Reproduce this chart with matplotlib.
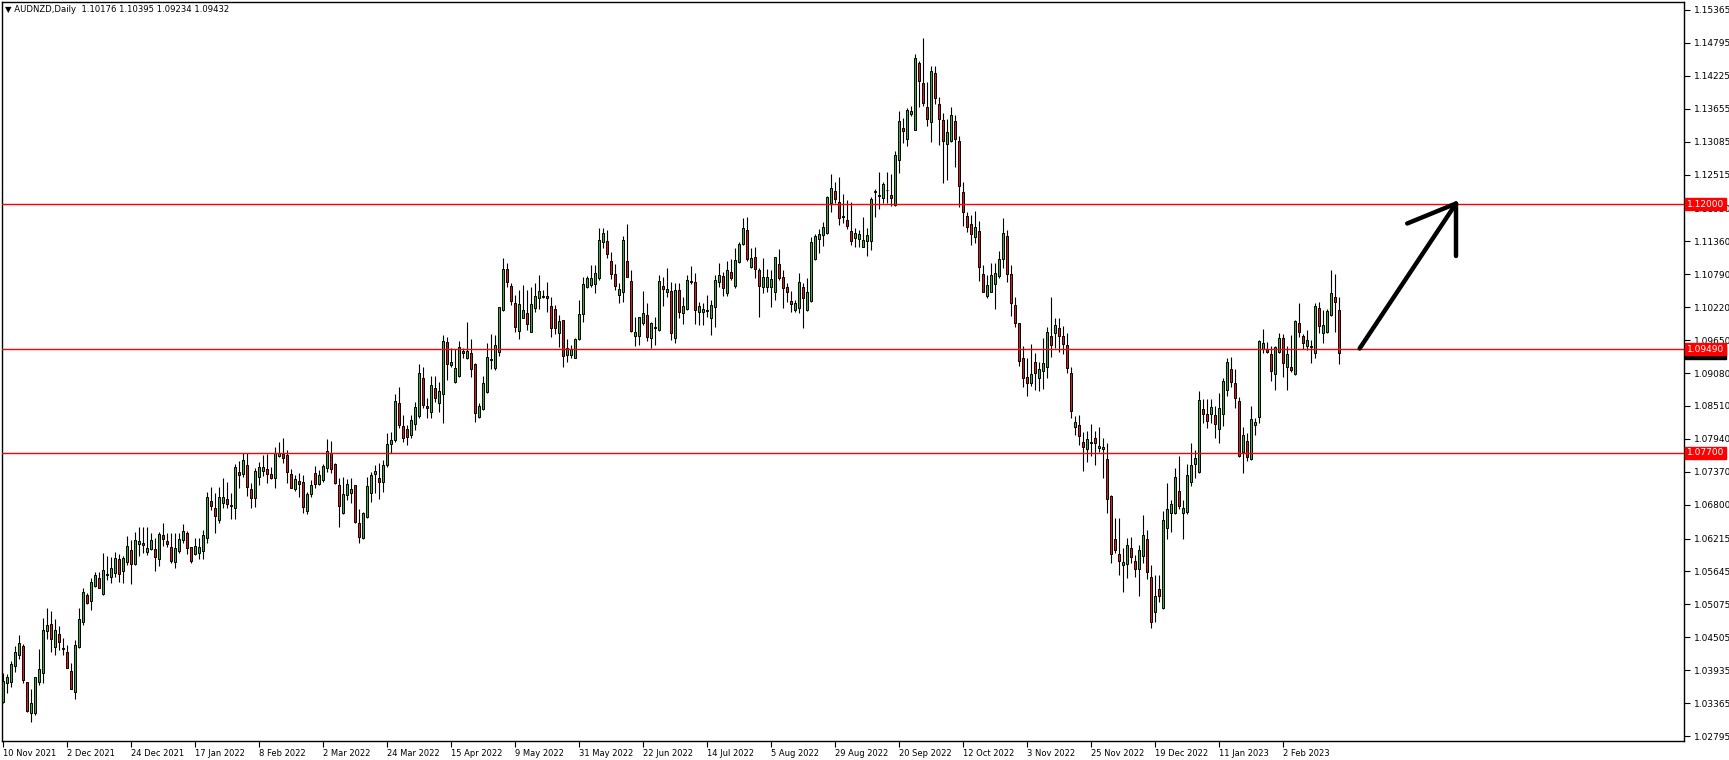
import matplotlib
matplotlib.use("Agg")
import matplotlib.pyplot as plt
import matplotlib.transforms as mtransforms

# AUDNZD daily candles, 10 Nov 2021 .. Feb 2023
opens = [
    1.03379, 1.03719, 1.03736, 1.04013, 1.04204, 1.04354, 1.03731, 1.03188, 1.03188, 1.03736,
    1.03892, 1.04619, 1.04729, 1.04342, 1.04556, 1.04313, 1.04244, 1.03915, 1.03563, 1.04342,
    1.04775, 1.05231, 1.05139, 1.05398, 1.05525, 1.05260, 1.05600, 1.05554, 1.05623, 1.05854,
    1.05658, 1.05808, 1.06016, 1.05767, 1.06125, 1.06137, 1.05975, 1.06039, 1.06027, 1.05854,
    1.06275, 1.06171, 1.06062, 1.05802, 1.05998, 1.06183, 1.06304, 1.06068, 1.05941, 1.05969,
    1.06004, 1.06229, 1.06864, 1.06737, 1.06529, 1.06835, 1.06893, 1.06789, 1.06749, 1.07360,
    1.07326, 1.07481, 1.07066, 1.06922, 1.07285, 1.07389, 1.07412, 1.07326, 1.07268, 1.07649,
    1.07672, 1.07660, 1.07326, 1.07066, 1.07204, 1.07187, 1.06691, 1.06979, 1.07343, 1.07152,
    1.07227, 1.07429, 1.07689, 1.07499, 1.07141, 1.06650, 1.06968, 1.06997, 1.07135, 1.06477,
    1.06218, 1.06593, 1.06997, 1.07326, 1.07256, 1.07187, 1.07481, 1.07845, 1.07920, 1.08567,
    1.08163, 1.08105, 1.08007, 1.08197, 1.08342, 1.08988, 1.08503, 1.08411, 1.08820, 1.08567,
    1.08722, 1.09617, 1.09224, 1.08919, 1.09034, 1.09467, 1.09345, 1.09420, 1.09230, 1.08318,
    1.08451, 1.08757, 1.09328, 1.09172, 1.09449, 1.10171, 1.10880, 1.10586, 1.10286, 1.09813,
    1.10038, 1.10113, 1.09796, 1.10211, 1.10373, 1.10401, 1.10413, 1.10240, 1.10182, 1.09778,
    1.09992, 1.09392, 1.09392, 1.09345, 1.09663, 1.10096, 1.10574, 1.10603, 1.10615, 1.10719,
    1.11348, 1.11365, 1.11019, 1.10788, 1.10436, 1.10476, 1.11019, 1.10673, 1.09726, 1.09720,
    1.09940, 1.10078, 1.09680, 1.09882, 1.09824, 1.10586, 1.10488, 1.10499, 1.09692, 1.10517,
    1.10113, 1.10182, 1.10667, 1.10655, 1.10142, 1.10142, 1.10165, 1.10026, 1.10217, 1.10655,
    1.10759, 1.10459, 1.10828, 1.10586, 1.11007, 1.11307, 1.11555, 1.10909, 1.11082, 1.10863,
    1.10574, 1.10574, 1.10574, 1.10488, 1.10961, 1.10736, 1.10574, 1.10326, 1.10171, 1.10199,
    1.10563, 1.10170, 1.10332, 1.11059, 1.11405, 1.11463, 1.11497, 1.12017, 1.12236, 1.12045,
    1.11797, 1.11728, 1.11538, 1.11422, 1.11393, 1.11267, 1.11370, 1.11370, 1.12207, 1.12149,
    1.12115, 1.12242, 1.12161, 1.11988, 1.12761, 1.13321, 1.13136, 1.13557, 1.13292, 1.14440,
    1.14094, 1.13678, 1.13430, 1.14267, 1.13730, 1.13459, 1.13038, 1.13096, 1.13442, 1.13096,
    1.12207, 1.11792, 1.11659, 1.11428, 1.11538, 1.10788, 1.10418, 1.10488, 1.10615, 1.10765,
    1.11047, 1.11450, 1.10800, 1.10250, 1.09939, 1.09333, 1.09005, 1.08912, 1.09264, 1.08999,
    1.09120, 1.09189, 1.09720, 1.09778, 1.09853, 1.09720, 1.09558, 1.09074, 1.08151, 1.08174,
    1.07879, 1.07758, 1.07879, 1.07949, 1.07775, 1.07758, 1.07585, 1.06950, 1.06200, 1.05941,
    1.05762, 1.05768, 1.06056, 1.05831, 1.05681, 1.05918, 1.06200, 1.05554, 1.04937, 1.05335,
    1.05017, 1.06391, 1.06650, 1.06662, 1.07043, 1.06650, 1.06679, 1.07198, 1.07504, 1.07361,
    1.08451, 1.08365, 1.08370, 1.08353, 1.08105, 1.08365, 1.08786, 1.09143, 1.08901, 1.08595,
    1.07718, 1.07903, 1.07591, 1.08180, 1.08313, 1.09495, 1.09495, 1.09403, 1.09057, 1.09438,
    1.09680, 1.09190, 1.09178, 1.09063, 1.09940, 1.09726, 1.09547, 1.09547, 1.09432, 1.10199,
    1.09778, 1.09795, 1.10084, 1.10390, 1.10176,
]

highs = [
    1.03892, 1.03869, 1.04088, 1.04360, 1.04544, 1.04388, 1.03731, 1.03604, 1.03823, 1.04302,
    1.04833, 1.05017, 1.04960, 1.04815, 1.04700, 1.04486, 1.04371, 1.04054, 1.04458, 1.05006,
    1.05352, 1.05265, 1.05525, 1.05640, 1.05640, 1.05958, 1.05912, 1.05900, 1.05987, 1.05946,
    1.05912, 1.06258, 1.06189, 1.06321, 1.06419, 1.06419, 1.06419, 1.06304, 1.06217, 1.06333,
    1.06477, 1.06304, 1.06304, 1.06304, 1.06304, 1.06460, 1.06344, 1.06073, 1.06217, 1.06218,
    1.06362, 1.07025, 1.07112, 1.06997, 1.07112, 1.07256, 1.07187, 1.06997, 1.07504, 1.07562,
    1.07689, 1.07689, 1.07170, 1.07429, 1.07545, 1.07660, 1.07678, 1.07458, 1.07793, 1.07879,
    1.07949, 1.07747, 1.07412, 1.07314, 1.07354, 1.07314, 1.07025, 1.07227, 1.07476, 1.07401,
    1.07504, 1.07937, 1.07908, 1.07516, 1.07256, 1.07274, 1.07239, 1.07256, 1.07141, 1.06720,
    1.06679, 1.07285, 1.07372, 1.07487, 1.07516, 1.07574, 1.08035, 1.08064, 1.08716, 1.08832,
    1.08353, 1.08180, 1.08353, 1.08584, 1.09230, 1.09190, 1.08653, 1.09034, 1.09034, 1.08930,
    1.09738, 1.09709, 1.09519, 1.09490, 1.09634, 1.09507, 1.09957, 1.09669, 1.09247, 1.08555,
    1.09028, 1.09605, 1.09755, 1.09738, 1.10228, 1.11065, 1.10978, 1.10644, 1.10430, 1.10517,
    1.10603, 1.10517, 1.10574, 1.10644, 1.10776, 1.10517, 1.10661, 1.10401, 1.10257, 1.10084,
    1.09997, 1.09669, 1.09565, 1.09692, 1.10344, 1.10748, 1.10765, 1.10950, 1.10950, 1.11596,
    1.11596, 1.11555, 1.11169, 1.10967, 1.10632, 1.11451, 1.11659, 1.10863, 1.10044, 1.10044,
    1.10499, 1.10286, 1.09969, 1.10055, 1.10776, 1.10748, 1.10903, 1.10661, 1.10632, 1.10632,
    1.10401, 1.10776, 1.10932, 1.10805, 1.10315, 1.10286, 1.10430, 1.10344, 1.10776, 1.10978,
    1.10834, 1.11025, 1.11053, 1.11238, 1.11353, 1.11757, 1.11775, 1.11238, 1.11267, 1.10892,
    1.11065, 1.10874, 1.10863, 1.11094, 1.11221, 1.10863, 1.10632, 1.10499, 1.10344, 1.10805,
    1.10632, 1.10730, 1.11440, 1.11486, 1.11567, 1.11699, 1.12149, 1.12524, 1.12380, 1.12472,
    1.12178, 1.12074, 1.12045, 1.11584, 1.11555, 1.11774, 1.11584, 1.12132, 1.12259, 1.12553,
    1.12392, 1.12559, 1.12524, 1.12923, 1.13615, 1.13488, 1.13673, 1.13701, 1.14602, 1.14486,
    1.14879, 1.14117, 1.14394, 1.14394, 1.13863, 1.13586, 1.13471, 1.13678, 1.13540, 1.13182,
    1.12386, 1.11872, 1.11815, 1.11884, 1.11711, 1.10949, 1.10776, 1.10978, 1.10978, 1.11197,
    1.11760, 1.11550, 1.10950, 1.10400, 1.09939, 1.09547, 1.09345, 1.09582, 1.09431, 1.09276,
    1.09680, 1.09882, 1.10400, 1.10026, 1.10026, 1.09899, 1.09778, 1.09178, 1.08335, 1.08347,
    1.08064, 1.08081, 1.08197, 1.08081, 1.08151, 1.07960, 1.07862, 1.06968, 1.06564, 1.06564,
    1.06056, 1.06218, 1.06235, 1.05929, 1.06102, 1.06621, 1.06362, 1.05756, 1.05583, 1.05583,
    1.06697, 1.07170, 1.06881, 1.07429, 1.07643, 1.06881, 1.07504, 1.07862, 1.07747, 1.08768,
    1.08624, 1.08624, 1.08624, 1.08515, 1.08740, 1.08988, 1.09334, 1.09351, 1.09143, 1.08670,
    1.08151, 1.08036, 1.08515, 1.08295, 1.09651, 1.09842, 1.09622, 1.09547, 1.09547, 1.09767,
    1.09749, 1.09547, 1.09738, 1.09997, 1.10286, 1.09755, 1.09824, 1.09651, 1.10286, 1.10303,
    1.10171, 1.10182, 1.10863, 1.10794, 1.10395,
]

lows = [
    1.03367, 1.03546, 1.03650, 1.03909, 1.04123, 1.03708, 1.03211, 1.03044, 1.03159, 1.03679,
    1.03719, 1.04469, 1.04250, 1.04198, 1.04285, 1.04198, 1.03967, 1.03604, 1.03436, 1.04313,
    1.04717, 1.05081, 1.04977, 1.05369, 1.05352, 1.05237, 1.05496, 1.05439, 1.05542, 1.05462,
    1.05450, 1.05756, 1.05421, 1.05756, 1.05912, 1.05958, 1.05929, 1.06016, 1.05658, 1.05744,
    1.06085, 1.06073, 1.05796, 1.05710, 1.05969, 1.06142, 1.05946, 1.05785, 1.05929, 1.05854,
    1.05854, 1.06131, 1.06708, 1.06316, 1.06477, 1.06749, 1.06737, 1.06547, 1.06547, 1.07083,
    1.07285, 1.06956, 1.06737, 1.06754, 1.07141, 1.07297, 1.07170, 1.07245, 1.07083, 1.07631,
    1.07527, 1.07181, 1.07083, 1.07043, 1.06939, 1.06650, 1.06639, 1.06939, 1.07083, 1.07141,
    1.07199, 1.07372, 1.07354, 1.07158, 1.06420, 1.06633, 1.06881, 1.06824, 1.06489, 1.06143,
    1.06206, 1.06564, 1.06852, 1.07002, 1.06899, 1.07025, 1.07458, 1.07689, 1.07891, 1.08122,
    1.07891, 1.07834, 1.07949, 1.08093, 1.08295, 1.08468, 1.08295, 1.08307, 1.08584, 1.08411,
    1.08209, 1.08959, 1.09190, 1.08901, 1.09017, 1.09334, 1.09322, 1.09017, 1.08226, 1.08307,
    1.08440, 1.08728, 1.09155, 1.09132, 1.09380, 1.10159, 1.10574, 1.10257, 1.09784, 1.09669,
    1.10026, 1.09824, 1.09784, 1.10130, 1.10188, 1.10373, 1.10142, 1.09709, 1.09749, 1.09536,
    1.09190, 1.09265, 1.09345, 1.09334, 1.09651, 1.09957, 1.10557, 1.10574, 1.10459, 1.10690,
    1.11250, 1.11065, 1.10707, 1.10517, 1.10297, 1.10315, 1.10736, 1.09784, 1.09553, 1.09565,
    1.09911, 1.09640, 1.09507, 1.09565, 1.09813, 1.10246, 1.10401, 1.09651, 1.09605, 1.10026,
    1.09928, 1.10171, 1.10615, 1.09922, 1.09911, 1.09911, 1.10055, 1.09738, 1.09882, 1.10574,
    1.10413, 1.10413, 1.10690, 1.10546, 1.10990, 1.11290, 1.11019, 1.10892, 1.10719, 1.10055,
    1.10471, 1.10488, 1.10228, 1.10344, 1.10690, 1.10199, 1.10315, 1.10142, 1.10130, 1.10113,
    1.09864, 1.10159, 1.10315, 1.11036, 1.11163, 1.11284, 1.11486, 1.11872, 1.12017, 1.11642,
    1.11670, 1.11567, 1.11295, 1.11267, 1.11255, 1.11255, 1.11105, 1.11209, 1.11786, 1.11919,
    1.12028, 1.12017, 1.11970, 1.11976, 1.12547, 1.13055, 1.13015, 1.13528, 1.13292, 1.13678,
    1.13701, 1.13355, 1.13084, 1.13736, 1.13026, 1.12374, 1.12421, 1.13084, 1.12651, 1.11947,
    1.11630, 1.11526, 1.11295, 1.11324, 1.10678, 1.10488, 1.10384, 1.10488, 1.10193, 1.10718,
    1.10900, 1.10650, 1.10070, 1.09870, 1.09201, 1.08831, 1.08687, 1.08854, 1.08785, 1.08774,
    1.08803, 1.08987, 1.09351, 1.09518, 1.09449, 1.09403, 1.09074, 1.08295, 1.08006, 1.07833,
    1.07389, 1.07545, 1.07649, 1.07487, 1.07706, 1.07256, 1.06650, 1.05785, 1.05958, 1.05583,
    1.05294, 1.05525, 1.05785, 1.05554, 1.05225, 1.05785, 1.05508, 1.04671, 1.04764, 1.05121,
    1.04994, 1.06212, 1.06333, 1.06639, 1.06725, 1.06212, 1.06639, 1.07123, 1.07268, 1.07343,
    1.08220, 1.08122, 1.08209, 1.07961, 1.07874, 1.08168, 1.08682, 1.08843, 1.08468, 1.07632,
    1.07343, 1.07563, 1.07574, 1.08007, 1.08220, 1.09420, 1.09432, 1.08947, 1.08786, 1.09420,
    1.09017, 1.08786, 1.09103, 1.09045, 1.09709, 1.09490, 1.09478, 1.09259, 1.09345, 1.09767,
    1.09605, 1.09767, 1.10067, 1.09795, 1.09234,
]

closes = [
    1.03754, 1.03811, 1.04036, 1.04244, 1.04400, 1.03765, 1.03229, 1.03361, 1.03811, 1.03950,
    1.04631, 1.04712, 1.04469, 1.04631, 1.04429, 1.04302, 1.03979, 1.03615, 1.04365, 1.04821,
    1.05283, 1.05104, 1.05462, 1.05577, 1.05364, 1.05664, 1.05583, 1.05698, 1.05871, 1.05594,
    1.05871, 1.06085, 1.05767, 1.06189, 1.06177, 1.06108, 1.06044, 1.06189, 1.05900, 1.06293,
    1.06212, 1.06125, 1.05831, 1.06044, 1.06206, 1.06339, 1.06056, 1.05831, 1.06085, 1.06073,
    1.06275, 1.06927, 1.06783, 1.06610, 1.06927, 1.06939, 1.06818, 1.06777, 1.07447, 1.07320,
    1.07568, 1.07101, 1.06922, 1.07377, 1.07447, 1.07452, 1.07326, 1.07256, 1.07689, 1.07701,
    1.07614, 1.07372, 1.07095, 1.07239, 1.07152, 1.06766, 1.06985, 1.07141, 1.07152, 1.07308,
    1.07470, 1.07729, 1.07412, 1.07170, 1.06777, 1.06979, 1.07152, 1.07066, 1.06495, 1.06247,
    1.06650, 1.07124, 1.07314, 1.07377, 1.07187, 1.07481, 1.07845, 1.07920, 1.08595, 1.08180,
    1.07949, 1.07978, 1.08261, 1.08497, 1.09074, 1.08526, 1.08480, 1.08872, 1.08653, 1.08763,
    1.09634, 1.09242, 1.09270, 1.09161, 1.09524, 1.09420, 1.09461, 1.09144, 1.08393, 1.08509,
    1.08901, 1.09351, 1.09305, 1.09559, 1.10217, 1.10880, 1.10661, 1.10332, 1.09882, 1.10274,
    1.10171, 1.09934, 1.10274, 1.10413, 1.10494, 1.10413, 1.10373, 1.09865, 1.09865, 1.09980,
    1.09380, 1.09507, 1.09490, 1.09663, 1.10101, 1.10615, 1.10719, 1.10730, 1.10805, 1.11382,
    1.11498, 1.11146, 1.10788, 1.10592, 1.10534, 1.11382, 1.10736, 1.09813, 1.09784, 1.10044,
    1.10113, 1.09709, 1.09940, 1.09865, 1.10673, 1.10540, 1.10528, 1.09767, 1.10517, 1.10130,
    1.10246, 1.10690, 1.10649, 1.10171, 1.10240, 1.10182, 1.10153, 1.10257, 1.10690, 1.10776,
    1.10546, 1.10863, 1.10719, 1.11036, 1.11313, 1.11584, 1.11048, 1.11065, 1.10886, 1.10580,
    1.10736, 1.10748, 1.10713, 1.11082, 1.10719, 1.10546, 1.10476, 1.10269, 1.10286, 1.10661,
    1.10384, 1.10476, 1.11342, 1.11445, 1.11486, 1.11601, 1.12132, 1.12276, 1.12086, 1.11769,
    1.11780, 1.11630, 1.11370, 1.11497, 1.11486, 1.11382, 1.11463, 1.12092, 1.12224, 1.12167,
    1.12346, 1.12253, 1.12103, 1.12848, 1.13442, 1.13275, 1.13632, 1.13615, 1.14527, 1.14140,
    1.13759, 1.13471, 1.14302, 1.13846, 1.13471, 1.13101, 1.13246, 1.13540, 1.13124, 1.12322,
    1.11861, 1.11613, 1.11480, 1.11613, 1.10920, 1.10488, 1.10603, 1.10770, 1.10816, 1.11047,
    1.11500, 1.10800, 1.10300, 1.09939, 1.09293, 1.08987, 1.08901, 1.09056, 1.09074, 1.09143,
    1.09247, 1.09783, 1.09570, 1.09910, 1.09726, 1.09576, 1.09160, 1.08428, 1.08226, 1.07995,
    1.07804, 1.07937, 1.07862, 1.07874, 1.07816, 1.07799, 1.06893, 1.05941, 1.06016, 1.05831,
    1.05802, 1.06096, 1.05900, 1.05681, 1.06016, 1.06270, 1.05641, 1.04764, 1.05225, 1.05225,
    1.06535, 1.06720, 1.06806, 1.07274, 1.06777, 1.06737, 1.07314, 1.07487, 1.07614, 1.08613,
    1.08370, 1.08255, 1.08486, 1.08197, 1.08468, 1.08942, 1.09265, 1.08930, 1.08641, 1.07649,
    1.08007, 1.07632, 1.08278, 1.08238, 1.09634, 1.09594, 1.09449, 1.09120, 1.09524, 1.09680,
    1.09247, 1.09403, 1.09132, 1.09980, 1.09784, 1.09594, 1.09651, 1.09524, 1.10240, 1.09899,
    1.09905, 1.10153, 1.10459, 1.10315, 1.09432,
]

date_labels = ["10 Nov 2021", "2 Dec 2021", "24 Dec 2021", "17 Jan 2022", "8 Feb 2022",
               "2 Mar 2022", "24 Mar 2022", "15 Apr 2022", "9 May 2022", "31 May 2022",
               "22 Jun 2022", "14 Jul 2022", "5 Aug 2022", "29 Aug 2022", "20 Sep 2022",
               "12 Oct 2022", "3 Nov 2022", "25 Nov 2022", "19 Dec 2022", "11 Jan 2023",
               "2 Feb 2023"]
label_step = 16

price_ticks = [1.15365, 1.14795, 1.14225, 1.13655, 1.13085, 1.12515, 1.11930, 1.11360,
               1.10790, 1.10220, 1.09650, 1.09080, 1.08510, 1.07940, 1.07370, 1.06800,
               1.06215, 1.05645, 1.05075, 1.04505, 1.03935, 1.03365, 1.02795]

levels = [1.12000, 1.09490, 1.07700]

# hand-drawn arrow (bar index, price)
arrow_line = ([339.1, 363.2], [1.09504, 1.12014])
arrow_barb1 = ([351.0, 363.2], [1.11668, 1.12014])
arrow_barb2 = ([363.2, 363.2], [1.11098, 1.12014])

title = "\u25bc AUDNZD,Daily  1.10176 1.10395 1.09234 1.09432"

W, H = 1729, 760
fig = plt.figure(figsize=(W / 100, H / 100), dpi=100)
ax = fig.add_axes([2 / W, 19 / H, 1682 / W, 739 / H])

up_col = '#22bb22'
dn_col = '#ee1111'
n = len(closes)
xs = list(range(n))

ax.vlines(xs, lows, highs, color='black', linewidth=0.8, zorder=2)
bottoms = [min(o, c) for o, c in zip(opens, closes)]
heights = [max(abs(c - o), 0.00004) for o, c in zip(opens, closes)]
cols = [up_col if c >= o else dn_col for o, c in zip(opens, closes)]
ax.bar(xs, heights, bottom=bottoms, width=0.55, color=cols, edgecolor='black',
       linewidth=0.7, zorder=3)

for lv in levels:
    ax.axhline(lv, color='red', linewidth=1.0, zorder=4)

for xx, yy in (arrow_line, arrow_barb1, arrow_barb2):
    ax.plot(xx, yy, color='black', linewidth=3.2, solid_capstyle='round', zorder=5)

ax.set_xlim(-0.325, 420.2)
ax.set_ylim(1.02710, 1.15502)

ax.yaxis.tick_right()
ax.set_yticks(price_ticks)
ax.set_yticklabels(["%.5f" % v for v in price_ticks])
ax.tick_params(axis='y', direction='out', length=4, width=0.8, pad=3, labelsize=6.5)

ax.set_xticks(range(0, len(date_labels) * label_step, label_step))
ax.set_xticklabels(date_labels, ha='left')
ax.tick_params(axis='x', direction='out', length=4, width=0.8, pad=1.5, labelsize=6.0)

for sp in ax.spines.values():
    sp.set_color('black')
    sp.set_linewidth(1.0)

trans = mtransforms.blended_transform_factory(ax.transAxes, ax.transData)
ax.text(1.0017, closes[-1], "%.5f" % closes[-1], transform=trans, color='white',
        fontsize=6.5, va='center', ha='left', clip_on=False, zorder=6,
        bbox=dict(boxstyle='square,pad=0.18', facecolor='black', edgecolor='black'))
for lv in levels:
    ax.text(1.0017, lv, "%.5f" % lv, transform=trans, color='white', fontsize=6.5,
            va='center', ha='left', clip_on=False, zorder=7,
            bbox=dict(boxstyle='square,pad=0.18', facecolor='red', edgecolor='red'))

fig.text(5 / W, 1 - 10 / H, title, fontsize=6.1, va='center', ha='left')

fig.savefig("out.png", dpi=100, facecolor='white')
